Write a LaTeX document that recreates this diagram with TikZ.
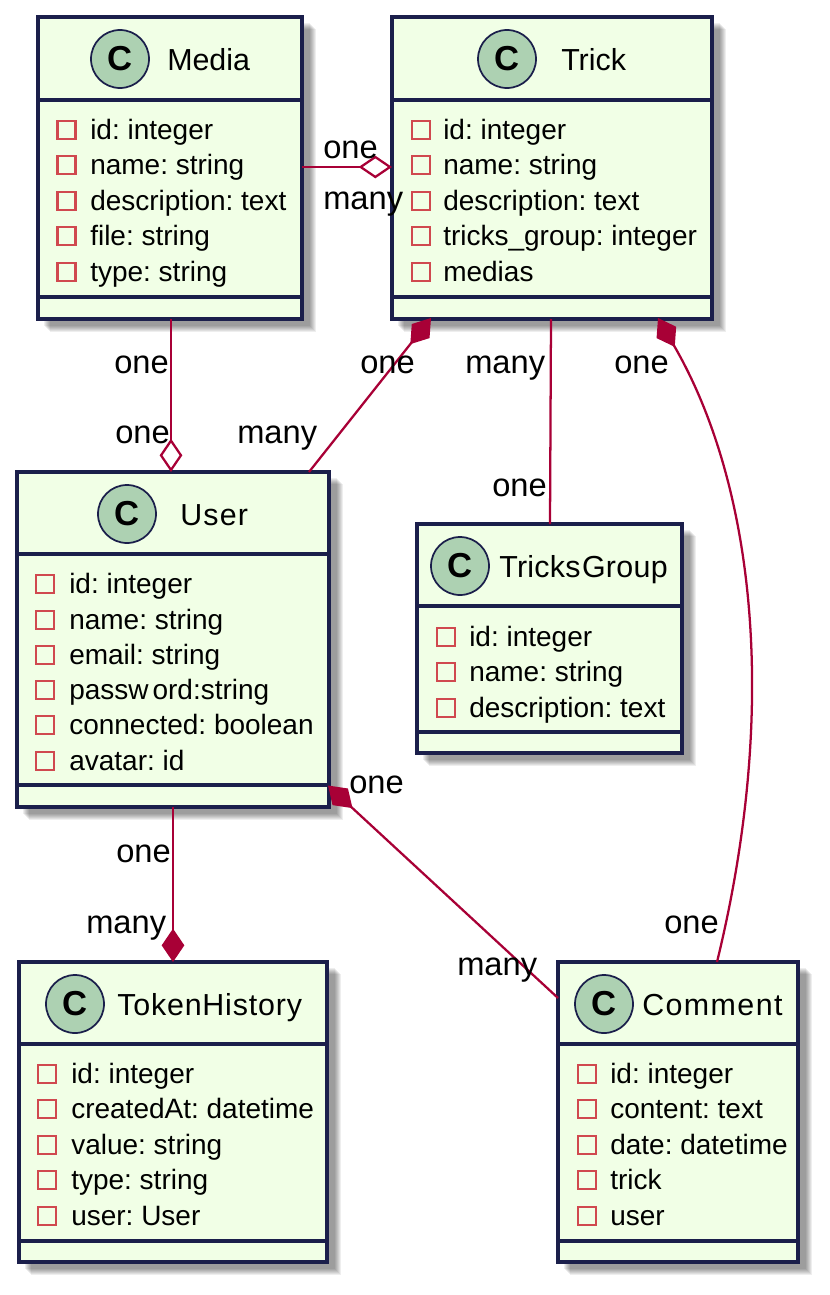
\documentclass[tikz,border=0pt]{standalone}
\usepackage{fontspec}
\setmainfont{Liberation Sans}
\usetikzlibrary{arrows.meta,calc}
\definecolor{edgeink}{HTML}{A80036}
\definecolor{boxink}{HTML}{1B1F4B}
\definecolor{boxfill}{HTML}{F1FFE6}
\definecolor{spotfill}{HTML}{ADD1B2}
\definecolor{privred}{HTML}{C82930}
\tikzset{
  classbox/.style={draw=boxink,fill=boxfill,line width=2.6pt,inner sep=0pt,outer sep=0pt},
  spot/.style={circle,draw=boxink,fill=spotfill,line width=1.3pt,minimum size=43.5pt,inner sep=0pt,font=\fontsize{26}{26}\selectfont\bfseries},
  classtitle/.style={anchor=base west,inner sep=0pt,font=\fontsize{22.8}{26}\selectfont\frenchspacing},
  member/.style={anchor=base west,inner sep=0pt,font=\fontsize{21}{25}\selectfont\frenchspacing},
  privbox/.style={draw=privred!85!white,line width=1.7pt,minimum size=13.5pt,inner sep=0pt},
  reln/.style={inner sep=0pt,font=\fontsize{24.5}{28}\selectfont},
  sepline/.style={draw=boxink,line width=2.3pt},
  edge/.style={draw=edgeink,line width=1.7pt},
  odiam/.style={-{Diamond[open,length=25pt,width=17pt,line width=1.7pt]}},
  fdiam/.style={-{Diamond[length=25pt,width=17pt]}},
}
% #1 name, #2-#5 x1 y1 x2 y2, #6 sep1, #7 sep2, #8 circle x, #9 title x
\newcommand{\umlbox}[9]{%
  \foreach \s in {9,10,11,12,13,14,15}{
    \fill[black,opacity=0.065] (#2+\s-3,#3+\s-3) rectangle (#4+\s-1,#5+\s-2);
  }
  \node[classbox,minimum width={(#4-#2)*0.75pt},minimum height={(#5-#3)*0.75pt}] (#1) at ({(#2+#4)/2},{(#3+#5)/2}) {};
  \draw[sepline] (#2,#6) -- (#4,#6);
  \draw[sepline] (#2,#7) -- (#4,#7);
  \node[spot] (#1-spot) at (#8,#3+42) {C};
  \node[classtitle] (#1-title) at (#9,#3+53) {\csname title#1\endcsname};
}
% #1 id, #2 square x, #3 text x, #4 y, #5 text
\newcommand{\umlmember}[5]{%
  \node[privbox] (#1-sq) at (#2,#4) {};
  \node[member] (#1-tx) at (#3,#4+9) {#5};
}
\newcommand{\titlemedia}{Media}
\newcommand{\titletrick}{Trick}
\newcommand{\titleuser}{\addfontfeature{LetterSpace=4}User}
\newcommand{\titlegroup}{\addfontfeature{LetterSpace=1}Tricks\kern1pt Group}
\newcommand{\titletoken}{\addfontfeature{LetterSpace=2.7}TokenHistory}
\newcommand{\titlecomment}{\addfontfeature{LetterSpace=4.7}Comment}
\begin{document}
\begin{tikzpicture}[x=0.75pt,y=-0.75pt]
\useasboundingbox (0,0) rectangle (830,1295);
\umlbox{media}{38}{17}{302}{319}{100}{297}{120}{167}
\umlbox{trick}{392}{17}{712}{319}{100}{297}{507}{561}
\umlbox{user}{17}{472}{329}{807}{554}{785}{127}{180}
\umlbox{group}{417}{524}{682}{753}{606}{732}{460}{499}
\umlbox{token}{19}{962}{327}{1262}{1044}{1241}{75}{117}
\umlbox{comment}{558}{962}{798}{1262}{1044}{1241}{604}{642}

\umlmember{m1}{66.5}{90}{130}{id: integer}
\umlmember{m2}{66.5}{90}{165}{name: string}
\umlmember{m3}{66.5}{90}{201}{description: text}
\umlmember{m4}{66.5}{90}{236}{file: string}
\umlmember{m5}{66.5}{90}{272}{type: string}

\umlmember{t1}{421}{443}{130}{id: integer}
\umlmember{t2}{421}{443}{165}{name: string}
\umlmember{t3}{421}{443}{201}{description: text}
\umlmember{t4}{421}{443}{236}{tricks\_group: integer}
\umlmember{t5}{421}{443}{272}{medias}

\umlmember{u1}{45}{69}{584}{id: integer}
\umlmember{u2}{45}{69}{620}{name: string}
\umlmember{u3}{45}{69}{655}{email: string}
\umlmember{u4}{45}{69}{690}{passw\kern3pt ord:string}
\umlmember{u5}{45}{69}{725}{connected: boolean}
\umlmember{u6}{45}{69}{761}{avatar: id}

\umlmember{g1}{446}{469}{637}{id: integer}
\umlmember{g2}{446}{469}{672}{name: string}
\umlmember{g3}{446}{469}{708}{description: text}

\umlmember{h1}{47}{71}{1074}{id: integer}
\umlmember{h2}{47}{71}{1109}{createdAt: datetime}
\umlmember{h3}{47}{71}{1145}{value: string}
\umlmember{h4}{47}{71}{1180}{type: string}
\umlmember{h5}{47}{71}{1216}{user: User}

\umlmember{c1}{587}{610}{1074}{id: integer}
\umlmember{c2}{587}{610}{1109}{content: text}
\umlmember{c3}{587}{610}{1145}{date: datetime}
\umlmember{c4}{587}{610}{1180}{trick}
\umlmember{c5}{587}{610}{1216}{user}

% connectors
\draw[edge,odiam] ($(media.east)+(0,-1)$) -- ($(trick.west)+(0,-1)$);
\draw[edge,odiam] ($(media.south)+(1,0)$) -- ($(user.north)+(-2,0)$);
\draw[edge,fdiam] ($(user.north)+(136,0)$) -- ($(trick.south)+(-121,-1)$);
\draw[edge] ($(trick.south)+(-1,0)$) -- ($(group.north)+(0.5,0)$);
\draw[edge,fdiam] ($(comment.north)+(39,0)$) .. controls (781,700) and (752,480) .. ($(trick.south)+(106,-1)$);
\draw[edge,fdiam] (user.south) -- (token.north);
\draw[edge,fdiam] ($(comment.west)+(0,-114)$) -- ($(user.east)+(-1,146)$);

% multiplicity labels
\node[reln,anchor=base west] (l1) at (323,158) {one};
\node[reln,anchor=base west] (l2) at (323,209) {many};
\node[reln,anchor=base west] (l3) at (114,373) {one};
\node[reln,anchor=base west] (l4) at (115,443) {one};
\node[reln,anchor=base west] (l5) at (360,373) {one};
\node[reln,anchor=base west] (l6) at (237,443) {many};
\node[reln,anchor=base west] (l7) at (465,373) {many};
\node[reln,anchor=base west] (l8) at (492,496) {one};
\node[reln,anchor=base west] (l9) at (614,373) {one};
\node[reln,anchor=base west] (l10) at (664,933) {one};
\node[reln,anchor=base west] (l11) at (349,793) {one};
\node[reln,anchor=base west] (l12) at (457,975) {many};
\node[reln,anchor=base west] (l13) at (116,862) {one};
\node[reln,anchor=base west] (l14) at (86,933) {many};
\end{tikzpicture}
\end{document}
